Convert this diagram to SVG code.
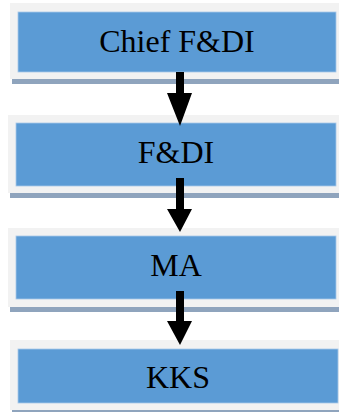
<svg xmlns="http://www.w3.org/2000/svg" width="339" height="412" viewBox="0 0 339 412">
  <style>
    .frame { fill: #f2f2f2; }
    .shadow { fill: #8fa4bd; }
    .box { fill: #5b9bd5; stroke: #a9c8e8; stroke-width: 0.8; }
    .label { font-family: "Liberation Serif", "Times New Roman", serif; font-size: 32px; fill: #000; text-anchor: middle; }
    .arrow { fill: #000; }
  </style>
  <rect width="339" height="412" fill="#ffffff"/>

  <g id="node-chief">
    <rect class="shadow" x="12" y="79" width="327" height="5"/>
    <rect class="frame" x="10" y="3" width="329" height="76"/>
    <rect class="box" x="18" y="12" width="318" height="60"/>
    <text class="label" x="177" y="52">Chief F&amp;DI</text>
  </g>

  <g id="node-fdi">
    <rect class="shadow" x="10" y="193" width="329" height="5"/>
    <rect class="frame" x="8" y="115" width="331" height="78"/>
    <rect class="box" x="16" y="123" width="320" height="63"/>
    <text class="label" x="176" y="163">F&amp;DI</text>
  </g>

  <g id="node-ma">
    <rect class="shadow" x="10" y="307" width="329" height="5"/>
    <rect class="frame" x="8" y="228" width="331" height="79"/>
    <rect class="box" x="16" y="236" width="320" height="63"/>
    <text class="label" x="176" y="276">MA</text>
  </g>

  <g id="node-kks">
    <rect class="shadow" x="12" y="410" width="327" height="2"/>
    <rect class="frame" x="10" y="340" width="329" height="70"/>
    <rect class="box" x="18" y="349" width="320" height="54"/>
    <text class="label" x="178" y="388">KKS</text>
  </g>

  <g id="connectors">
    <polygon class="arrow" points="176,72 184,72 184,93 192,93 180,126 167,93 176,93"/>
    <polygon class="arrow" points="176,178 184,178 184,209 192,209 180,232 167,209 176,209"/>
    <polygon class="arrow" points="176,291 184,291 184,321 192,321 180,345 167,321 176,321"/>
  </g>
</svg>
